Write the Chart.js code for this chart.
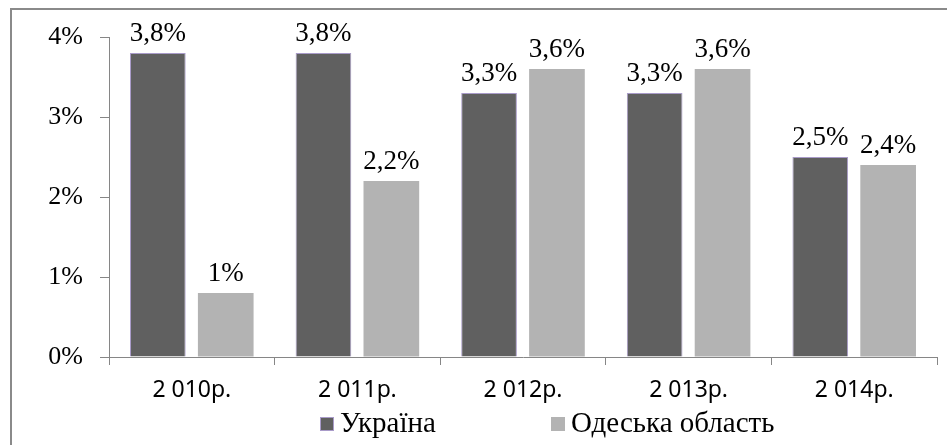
<!DOCTYPE html>
<html>
<head>
<meta charset="utf-8">
<script src="https://cdn.jsdelivr.net/npm/chart.js@4.4.0/dist/chart.umd.min.js"></script>
<style>
  html, body { margin: 0; padding: 0; background: #fff; }
  .wrap { position: relative; width: 947px; height: 445px; overflow: hidden; }
  .frame {
    position: absolute; left: 10px; top: 8px; width: 960px; height: 460px;
    border: 2px solid #8a8a8a; pointer-events: none;
  }
  canvas { position: absolute; left: 0; top: 0; }
</style>
</head>
<body>
<div class="wrap">
  <canvas id="chart" width="947" height="445"></canvas>
  <div class="frame"></div>
</div>
<script>
const years = ['2 010р.', '2 011р.', '2 012р.', '2 013р.', '2 014р.']
const ukraine = [3.8, 3.8, 3.3, 3.3, 2.5]
const odesa = [0.8, 2.2, 3.6, 3.6, 2.4]
const ukraineLabels = ['3,8%', '3,8%', '3,3%', '3,3%', '2,5%']
const odesaLabels = ['1%', '2,2%', '3,6%', '3,6%', '2,4%']
const yTicks = [0, 1, 2, 3, 4]

const serif = "'Liberation Serif', 'Times New Roman', serif"
const axisColor = '#868686'

// value labels above each bar
const barLabels = {
  id: 'barLabels',
  afterDatasetsDraw(chart) {
    const ctx = chart.ctx
    const texts = [ukraineLabels, odesaLabels]
    ctx.save()
    ctx.font = '27px ' + serif
    ctx.fillStyle = '#000'
    ctx.textAlign = 'center'
    ctx.textBaseline = 'alphabetic'
    chart.data.datasets.forEach((ds, di) => {
      chart.getDatasetMeta(di).data.forEach((bar, i) => {
        ctx.fillText(texts[di][i], bar.x, bar.y - 12)
      })
    })
    ctx.restore()
  }
}

// legend under the category labels
const bottomLegend = {
  id: 'bottomLegend',
  afterDraw(chart) {
    const ctx = chart.ctx
    const spots = [320, 551]
    const base = 432
    ctx.save()
    ctx.font = '29px ' + serif
    ctx.textBaseline = 'alphabetic'
    ctx.textAlign = 'left'
    chart.data.datasets.forEach((ds, i) => {
      ctx.fillStyle = ds.backgroundColor
      ctx.fillRect(spots[i], base - 15, 14, 14)
      if (ds.borderWidth) {
        ctx.strokeStyle = ds.borderColor
        ctx.lineWidth = 1
        ctx.strokeRect(spots[i] + 0.5, base - 14.5, 13, 13)
      }
      ctx.fillStyle = '#000'
      ctx.fillText(ds.label, spots[i] + 20, base)
    })
    ctx.restore()
  }
}

new Chart(document.getElementById('chart'), {
  type: 'bar',
  data: {
    labels: years,
    datasets: [
      {
        label: 'Україна',
        data: ukraine,
        backgroundColor: '#606060',
        borderColor: '#a99bc9',
        borderWidth: 1,
        categoryPercentage: 0.82,
        barPercentage: 0.82
      },
      {
        label: 'Одеська область',
        data: odesa,
        backgroundColor: '#b3b3b3',
        borderWidth: 0,
        categoryPercentage: 0.82,
        barPercentage: 0.82
      }
    ]
  },
  options: {
    responsive: false,
    animation: false,
    layout: { padding: { left: 0, top: 37, right: 10, bottom: 40 } },
    plugins: {
      legend: { display: false },
      tooltip: { enabled: false }
    },
    scales: {
      x: {
        grid: { drawOnChartArea: false, color: axisColor, tickLength: 8 },
        border: { color: axisColor },
        ticks: {
          color: '#000',
          padding: 12,
          font: { family: "'Noto Sans', sans-serif", size: 23 }
        },
        afterFit(scale) { scale.height = 48 }
      },
      y: {
        min: 0,
        max: 4,
        afterBuildTicks(scale) { scale.ticks = yTicks.map(v => ({ value: v })) },
        grid: { drawOnChartArea: false, color: axisColor, tickLength: 9 },
        border: { color: axisColor },
        ticks: {
          color: '#000',
          padding: 17,
          font: { family: serif, size: 26 },
          callback: v => v + '%'
        },
        afterFit(scale) { scale.width = 109 }
      }
    }
  },
  plugins: [barLabels, bottomLegend]
})
</script>
</body>
</html>
